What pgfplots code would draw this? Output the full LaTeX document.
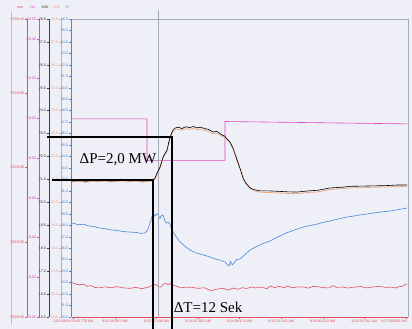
\documentclass[border=0pt]{standalone}
\usepackage{fontspec}
\setmainfont{Liberation Sans}
\newfontfamily\seriffont{Liberation Serif}
\usepackage{pgfplots}
\pgfplotsset{compat=1.18}

\definecolor{bg}{RGB}{238,239,247}
\definecolor{rpmred}{RGB}{225,80,95}
\definecolor{hzmag}{RGB}{222,70,195}
\definecolor{mwor}{RGB}{240,165,125}
\definecolor{mwblack}{RGB}{60,60,60}
\definecolor{pctblue}{RGB}{70,135,215}
\definecolor{framegray}{RGB}{165,170,185}

\pgfplotsset{
  plotarea/.style={scale only axis, width=336pt, height=298pt, at={(72pt,12pt)}, anchor=south west, xmin=-1.12, xmax=268.1, clip=false},
  scaleaxis/.style={scale only axis, width=1pt, height=298pt, anchor=south west, xmin=0, xmax=1,
    axis x line=none, axis y line*=left,
    y axis line style={-, draw=#1, line width=0.6pt},
    ytick style={draw=#1, line width=0.4pt},
    major tick length=2pt, tick align=outside, scaled y ticks=false,
    yticklabel style={font=\fontsize{3.7}{4}\selectfont, text=#1, inner sep=0.8pt},
    title style={at={(rel axis cs:0,1)}, anchor=base, yshift=4pt, font=\fontsize{3.7}{4}\selectfont, text=#1},
    /pgf/number format/assume math mode=true,
    /pgf/number format/fixed, /pgf/number format/fixed zerofill, /pgf/number format/1000 sep={}},
}

\begin{document}
\begin{tikzpicture}
\fill[bg] (0,0) rectangle (412pt,329pt);
\path[use as bounding box] (0,0) rectangle (412pt,329pt);
\draw[framegray!70, line width=0.4pt] (11pt,4pt) -- (11pt,318pt);

% ---- scale axes ----
\begin{axis}[scaleaxis=rpmred, at={(27pt,12pt)}, ymin=5000, ymax=5199.44,
  ytick={5000,5050,5100,5150,5199.44}, /pgf/number format/precision=2,
  title={rpm}, title style={xshift=-7pt}]
\end{axis}
\begin{axis}[scaleaxis=hzmag, at={(39pt,12pt)}, ymin=49, ymax=50.5,
  ytick={49,49.2,49.4,49.6,49.8,50,50.2,50.4,50.5}, /pgf/number format/precision=2,
  title={Hz}, title style={xshift=-6pt}]
\end{axis}
\begin{axis}[scaleaxis=mwblack, at={(49pt,12pt)}, ymin=15, ymax=28,
  ytick={15,16,17,18,19,20,21,22,23,24,25,26,27,28}, /pgf/number format/precision=1,
  title={MW}, title style={xshift=-4pt}]
\end{axis}
\begin{axis}[scaleaxis=mwor, at={(61pt,12pt)}, ymin=15, ymax=28,
  ytick={15,16,17,18,19,20,21,22,23,24,25,26,27,28}, /pgf/number format/precision=1,
  title={MW}, title style={xshift=-4pt}]
\end{axis}
\begin{axis}[scaleaxis=pctblue, at={(71pt,12pt)}, ymin=30, ymax=56,
  ytick={30,31,32,33,34,35,36,37,38,39,40,41,42,43,44,45,46,47,48,49,50,51,52,53,54,55,56},
  /pgf/number format/precision=1,
  title={\%}, title style={xshift=-4pt}]
\end{axis}

% ---- rpm (red) ----
\begin{axis}[plotarea, hide axis, ymin=5000, ymax=5199.44]
\addplot[rpmred, line width=0.6pt] coordinates {
(-1,5023) (2,5022) (5,5021.5) (8,5022) (11,5020.5) (14,5021) (17,5019.8) (21,5019.5) (25,5020.2)
(30,5019.6) (35,5020.3) (40,5019.5) (45,5019.2) (50,5019.8) (55,5019) (60,5020) (63,5021)
(66,5021.8) (68,5020.2) (70,5020) (72,5022) (74,5022.6) (76,5021.5) (78,5022.4) (80,5021.2)
(82,5020.8) (86,5019.5) (90,5020) (95,5019.8) (100,5019.2) (105,5019.6) (110,5017.6) (113,5018.2)
(116,5018.8) (120,5019.2) (124,5018) (128,5019.4) (132,5018.5) (135,5019.6) (139,5019.1)
(143,5020.2) (146,5019.4) (150,5020.1) (155,5019) (158,5020.8) (161,5019.7) (165,5020.5)
(169,5019.6) (172,5020.8) (175,5019.5) (180,5020.2) (185,5020) (188,5019.3) (192,5020.5)
(196,5020.3) (200,5019.6) (205,5019.5) (208,5021) (211,5019.8) (215,5020.1) (220,5019.4)
(225,5020) (230,5020.4) (235,5019.5) (240,5020.1) (245,5020.6) (250,5019.8) (255,5020)
(258,5019.4) (261,5020.3) (264,5020.6) (266,5021.8) (267.3,5022)
};
\end{axis}

% ---- % (blue) ----
\begin{axis}[plotarea, hide axis, ymin=30, ymax=56]
\addplot[pctblue, line width=0.6pt] coordinates {
(-1,38.2) (4,38.05) (8,38.1) (12,37.95) (16,37.9) (21.3,37.76) (26,37.7) (30,37.6) (35,37.55)
(40,37.45) (45.4,37.41) (50,37.38) (54,37.3) (57.4,37.33) (59.5,37.6) (61.4,38.2) (63.8,39.07)
(65.2,38.8) (66.5,39.0) (67.8,38.9) (69.4,38.6) (70.5,38.85) (71.8,38.9) (73,38.5) (74.2,38.2)
(76,38.25) (77.2,38.15) (79,37.6) (81.4,37.15) (85,36.6) (89,36.2) (93.4,35.84) (98,35.6)
(103,35.45) (109.5,35.23) (114,35.05) (118,34.95) (121.5,34.8) (123,34.6) (124.7,34.45)
(125.8,34.85) (127.1,34.55) (129,34.75) (130.5,35.0) (133.5,35.06) (137,35.4) (141.5,35.84)
(145,36.05) (149.5,36.3) (153,36.45) (157.5,36.63) (163,36.95) (170,37.3) (176,37.55)
(181.6,37.76) (188,37.95) (195,38.1) (200,38.25) (205.6,38.37) (212,38.55) (218,38.7)
(224,38.8) (229.6,38.9) (236,39.0) (242,39.1) (248,39.18) (253.7,39.25) (259,39.35)
(263,39.42) (267.3,39.51)
};
\end{axis}

% ---- Hz (magenta) ----
\begin{axis}[plotarea, hide axis, ymin=49, ymax=50.5]
\addplot[hzmag, line width=0.6pt] coordinates {
(-1,49.997) (59.0,49.997) (59.0,49.788) (121.5,49.788) (121.5,49.984) (268.1,49.972)
};
\end{axis}

% ---- MW (orange) ----
\begin{axis}[plotarea, hide axis, ymin=15, ymax=28]
\addplot[mwor, line width=0.7pt] coordinates {
(-1,20.9) (5,20.91) (10,20.88) (15,20.92) (20,20.9) (25,20.93) (30,20.89) (35,20.91) (40,20.94)
(45,20.9) (50,20.92) (55,20.89) (60,20.91) (63,20.93) (65.4,21.0) (67,21.2) (69.4,21.48)
(72,21.95) (75,22.22) (77.2,22.75) (79.8,23.08) (81.4,23.16) (84,23.2) (87,23.14) (90,23.22)
(93,23.18) (96,23.23) (99,23.17) (102,23.2) (105,23.14) (108,23.11) (111.9,22.99) (115,23.02)
(119.1,22.88) (121,22.85) (123,22.74) (125.5,22.6) (128,22.36) (131.1,21.9) (134,21.42)
(136.5,21.02) (139,20.8) (142.5,20.58) (146,20.49) (150,20.44) (157.5,20.43) (165,20.41)
(172,20.39) (179.2,20.38) (188,20.43) (196,20.46) (205.6,20.56) (215,20.6) (222,20.63)
(232,20.64) (240,20.66) (250,20.67) (260,20.7) (267.3,20.68)
};
\end{axis}

% ---- MW (black) main axis ----
\begin{axis}[plotarea, ymin=15, ymax=28, hide y axis, axis x line*=bottom,
  x axis line style={-, draw=rpmred, line width=0.8pt},
  xtick={0,33.3,66.6,99.9,133.2,166.5,199.8,233.1},
  xticklabels={12/11/09 9:22:45.776 AM, 9:23:19.567 AM, 9:23:52.436 AM, 9:24:25.305 AM,
    9:24:58.174 AM, 9:25:31.043 AM, 9:26:03.912 AM, 9:26:36.781 AM},
  extra x ticks={266.4},
  extra x tick labels={9:27:09.650 AM},
  extra x tick style={xticklabel style={anchor=north east, xshift=2pt}},
  xticklabel style={font=\fontsize{3.6}{4}\selectfont, text=rpmred, inner sep=1pt},
  xtick style={draw=rpmred, line width=0.4pt}, major tick length=2pt, tick align=outside]
\draw[framegray, line width=0.6pt] (rel axis cs:0,1) -- (rel axis cs:1,1) -- (rel axis cs:1,0);
\addplot[framegray, line width=0.5pt] coordinates {(67.8,28.39) (67.8,15)};
\addplot[black, line width=0.6pt] coordinates {
(-1,20.93) (5,20.95) (10,20.92) (15,20.96) (20,20.94) (25,20.97) (30,20.93) (35,20.95) (40,20.98)
(45,20.94) (50,20.96) (55,20.93) (60,20.95) (63,20.97) (65.4,21.06) (67,21.28) (69.4,21.54)
(72,22.0) (75,22.28) (77.2,22.81) (79.8,23.16) (81.4,23.24) (84,23.28) (87,23.22) (90,23.3)
(93,23.26) (96,23.31) (99,23.25) (102,23.28) (105,23.22) (108,23.19) (111.9,23.07) (115,23.1)
(119.1,22.94) (121,22.9) (123,22.78) (125.5,22.63) (128,22.35) (131.1,21.85) (134,21.4)
(135.9,21.06) (138,20.85) (141.5,20.63) (145,20.55) (150,20.5) (157.5,20.5) (165,20.48)
(172,20.46) (179.2,20.45) (188,20.5) (196,20.53) (205.6,20.63) (215,20.66) (222,20.7)
(232,20.71) (240,20.72) (250,20.73) (260,20.76) (267.3,20.76)
};
% annotation lines
\addplot[black, line width=1.6pt] coordinates {(-21.2,22.85) (79.0,22.85) (79.0,14.47)};
\addplot[black, line width=1.6pt] coordinates {(-17.1,20.98) (63.8,20.98) (63.8,14.47)};
\node[font=\seriffont\fontsize{15}{15}\selectfont, inner sep=0pt] at (axis cs:35.7,21.85) {ΔP=2,0 MW};
\node[font=\seriffont\fontsize{15}{15}\selectfont, inner sep=0pt] at (axis cs:107.9,15.43) {ΔT=12 Sek};
\end{axis}
\end{tikzpicture}
\end{document}
